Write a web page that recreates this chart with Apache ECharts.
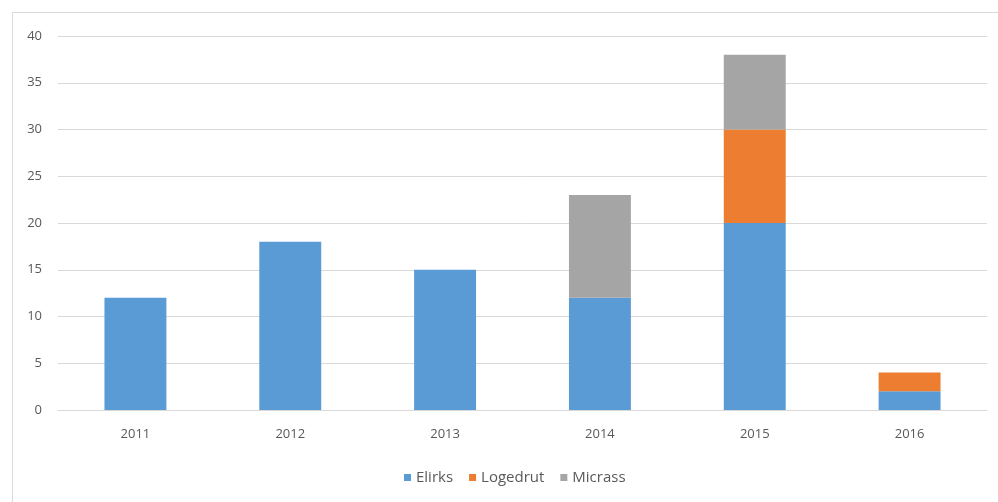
<!DOCTYPE html>
<html><head><meta charset="utf-8">
<script src="https://cdn.jsdelivr.net/npm/echarts@6/dist/echarts.min.js"></script>
<style>html,body{margin:0;padding:0;background:#fff}#c{width:998px;height:502px}</style>
</head><body><div id="c"></div>
<script>
const categories = ['2011','2012','2013','2014','2015','2016'];
const elirks = [12, 18, 15, 12, 20, 2];
const logedrut = [0, 0, 0, 0, 10, 2];
const micrass = [0, 0, 0, 11, 8, 0];
const seriesNames = ['Elirks','Logedrut','Micrass'];
const colors = ['#5B9BD5','#ED7D31','#A5A5A5'];

const chart = echarts.init(document.getElementById('c'));
const font = '"Open Sans", "Liberation Sans", sans-serif';
chart.setOption({
  animation: false,
  graphic: [{type:'rect', left: 10, top: 10, shape:{width: 1000, height: 600}, style:{fill:'none', stroke:'#d9d9d9', lineWidth:1}, silent:true}],
  grid: {left: 58, right: 11, top: 36, bottom: 92},
  legend: {
    top: 465, left: 399, itemWidth: 7, itemHeight: 7, itemGap: 16,
    icon: 'rect',
    textStyle: {color: '#595959', fontSize: 15, fontFamily: font},
    data: seriesNames
  },
  xAxis: {
    type: 'category', data: categories,
    axisLine: {lineStyle: {color: '#d9d9d9'}},
    axisTick: {show: false},
    axisLabel: {color: '#595959', fontSize: 13, fontFamily: font, margin: 18}
  },
  yAxis: {
    type: 'value', min: 0, max: 40, interval: 5,
    axisLine: {show: false}, axisTick: {show: false},
    splitLine: {lineStyle: {color: '#d9d9d9'}},
    axisLabel: {color: '#595959', fontSize: 13, fontFamily: font, margin: 16}
  },
  series: [
    {name: seriesNames[0], type: 'bar', stack: 's', data: elirks, barWidth: '40%', itemStyle: {color: colors[0]}},
    {name: seriesNames[1], type: 'bar', stack: 's', data: logedrut, itemStyle: {color: colors[1]}},
    {name: seriesNames[2], type: 'bar', stack: 's', data: micrass, itemStyle: {color: colors[2]}}
  ]
});
</script></body></html>
